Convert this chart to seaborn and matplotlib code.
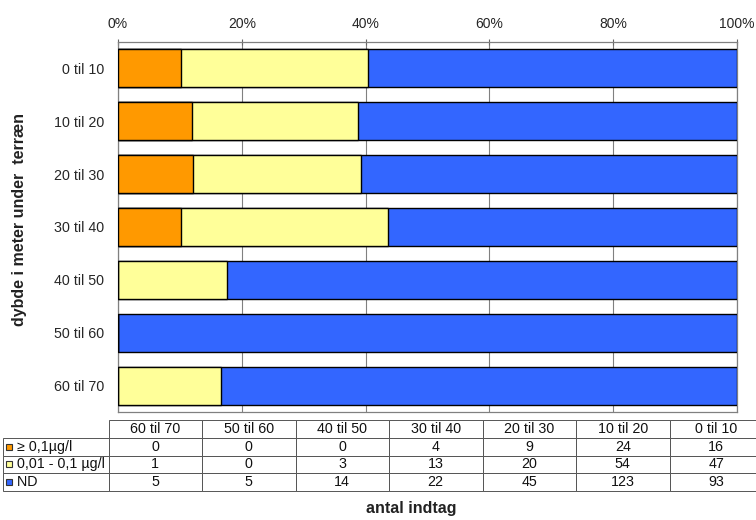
import matplotlib
matplotlib.use("Agg")
import matplotlib.pyplot as plt
from matplotlib.ticker import PercentFormatter
import pandas as pd
import seaborn as sns

# depth intervals (top to bottom in the chart)
depths = ["0 til 10", "10 til 20", "20 til 30", "30 til 40", "40 til 50", "50 til 60", "60 til 70"]
# number of intakes per class
high = [16, 24, 9, 4, 0, 0, 0]        # >= 0,1 ug/l
low = [47, 54, 20, 13, 3, 0, 1]       # 0,01 - 0,1 ug/l
nd = [93, 123, 45, 22, 14, 5, 5]      # ND
series_names = ["\u2265 0,1\u00b5g/l", "0,01 - 0,1 \u00b5g/l", "ND"]

c_high = "#ff9900"
c_low = "#ffff99"
c_nd = "#3366ff"

df = pd.DataFrame({"depth": depths, "high": high, "low": low, "nd": nd})
df["total"] = df["high"] + df["low"] + df["nd"]
df["p_all"] = 100.0
df["p_low"] = (df["high"] + df["low"]) / df["total"] * 100
df["p_high"] = df["high"] / df["total"] * 100

sns.set_style("white")
plt.rcParams["font.family"] = ["Liberation Sans", "DejaVu Sans"]

fig = plt.figure(figsize=(7.56, 5.2), dpi=100)
W, H = 756, 520
ax_l, ax_r, ax_t, ax_b = 118, 737, 42, 412
ax = fig.add_axes([ax_l / W, 1 - ax_b / H, (ax_r - ax_l) / W, (ax_b - ax_t) / H])

# stacked 100% bars, drawn back to front
for col, c in [("p_all", c_nd), ("p_low", c_low), ("p_high", c_high)]:
    sns.barplot(data=df, x=col, y="depth", orient="h", color=c, edgecolor="black",
                linewidth=1, width=0.72, saturation=1, ax=ax, zorder=3)

ax.set_xlim(0, 100)
ax.set_ylim(6.5, -0.5)
ax.xaxis.tick_top()
ax.xaxis.set_major_formatter(PercentFormatter(decimals=0))
ax.set_xticks([0, 20, 40, 60, 80, 100])
ax.tick_params(axis="x", length=4, direction="inout", color="#666666", labelsize=10, pad=6)
ax.tick_params(axis="y", which="major", length=0, labelsize=10.3, pad=10)
ax.set_yticks([i - 0.5 for i in range(len(depths) + 1)], minor=True)
ax.tick_params(axis="y", which="minor", length=4, direction="inout", color="#666666")
ax.grid(axis="x", color="#808080", linewidth=0.8, zorder=0)
ax.set_axisbelow(True)
for s in ax.spines.values():
    s.set_color("#808080")
    s.set_linewidth(0.9)
ax.set_xlabel("")
ax.set_ylabel("")

# data table below the chart (columns in reverse depth order)
order = list(range(len(depths)))[::-1]
rows = [high, low, nd]
cell_text = []
for name, vals in zip(series_names, rows):
    cell_text.append(["   " + name] + [str(vals[i]) for i in order])
col_labels = [""] + [depths[i] for i in order]

ax_w = ax_r - ax_l
ax_h = ax_b - ax_t
tab_l, tab_t, tab_b = 3, 420, 491
lab_w = 105.5
col_w = 93.5
tab_r = tab_l + lab_w + col_w * len(depths)
bbox = [(tab_l - ax_l) / ax_w, -(tab_b - ax_b) / ax_h,
        (tab_r - tab_l) / ax_w, (tab_b - tab_t) / ax_h]
tab = ax.table(cellText=cell_text, colLabels=col_labels,
               colWidths=[lab_w] + [col_w] * len(depths),
               cellLoc="center", bbox=bbox)
tab.auto_set_font_size(False)
tab.set_fontsize(10.3)
for (r, c), cell in tab.get_celld().items():
    cell.set_edgecolor("#555555")
    cell.set_linewidth(0.7)
    cell.get_text().set_color("#111111")
    if c == 0:
        cell.PAD = 0.02
        cell.get_text().set_ha("left")
        if r == 0:
            cell.visible_edges = ""

# legend keys in the row label cells
row_h = (tab_b - tab_t) / 4
for k, c in enumerate([c_high, c_low, c_nd]):
    yk = tab_t + row_h * (k + 1.5)
    ax.plot([(tab_l + 6 - ax_l) / ax_w], [-(yk - ax_b) / ax_h], marker="s", markersize=5,
            markerfacecolor=c, markeredgecolor="#333333", markeredgewidth=0.8,
            transform=ax.transAxes, clip_on=False, linestyle="none")

fig.text(20 / W, 1 - 220 / H, "dybde i meter under  terr\u00e6n", rotation=90,
         ha="center", va="center", fontsize=11.5, fontweight="bold", color="#222222")
fig.text(411 / W, 1 - 509 / H, "antal indtag", ha="center", va="center",
         fontsize=11.5, fontweight="bold", color="#222222")

fig.savefig("out.png", dpi=100, facecolor="white")
